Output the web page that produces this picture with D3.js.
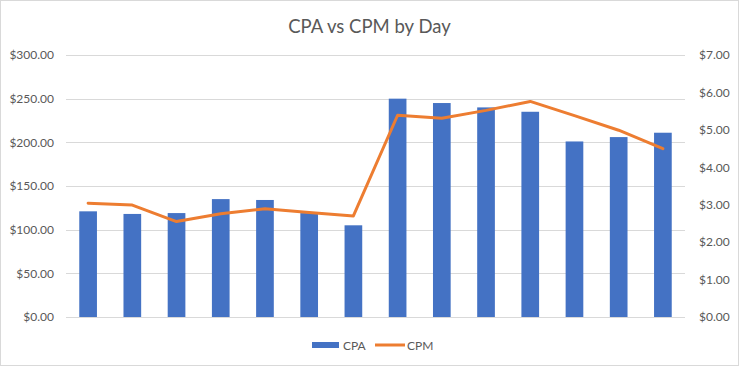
<!DOCTYPE html>
<html>
<head>
<meta charset="utf-8">
<script src="https://cdn.jsdelivr.net/npm/d3@7"></script>
<style>
  body { margin: 0; background: #fff; }
  svg { display: block; font-family: Lato, "Open Sans", sans-serif; }
</style>
</head>
<body>
<div class="forshow"></div>
<script>
// one entry per day (no labels shown on the axis)
var days = d3.range(1, 15).map(function(d) { return "Day " + d; });
var cpa = [121, 118, 119, 135, 134, 119, 105, 250, 245, 240, 235, 201, 206, 211];
var cpm = [3.04, 2.99, 2.55, 2.76, 2.89, 2.79, 2.70, 5.39, 5.31, 5.52, 5.76, 5.38, 4.99, 4.50];
var leftTicks = [0, 50, 100, 150, 200, 250, 300];
var rightTicks = [0, 1, 2, 3, 4, 5, 6, 7];

var W = 739, H = 367;
var margin = { top: 55, right: 54, bottom: 50, left: 66 };
var innerW = W - margin.left - margin.right;
var innerH = H - margin.top - margin.bottom;

var svg = d3.select(".forshow").append("svg")
	.attr("width", W)
	.attr("height", H);

// outer frame
svg.append("rect")
	.attr("x", 0.5).attr("y", 0.5)
	.attr("width", W - 1).attr("height", H - 2)
	.attr("fill", "#fff")
	.attr("stroke", "#d9d9d9");

svg.append("text")
	.attr("x", W / 2)
	.attr("y", 33)
	.attr("text-anchor", "middle")
	.attr("font-size", 18.5)
	.attr("fill", "#595959")
	.text("CPA vs CPM by Day");

var g = svg.append("g")
	.attr("transform", "translate(" + margin.left + "," + margin.top + ")");

var x = d3.scaleBand().domain(days).range([0, innerW]).paddingInner(0.6).paddingOuter(0.3);
var yL = d3.scaleLinear().domain([0, 300]).range([innerH, 0]);
var yR = d3.scaleLinear().domain([0, 7]).range([innerH, 0]);

// gridlines
g.selectAll(".grid")
	.data(leftTicks)
	.enter()
	.append("line")
	.attr("x1", 0)
	.attr("x2", innerW)
	.attr("y1", function(d) { return Math.round(yL(d)) + 0.5; })
	.attr("y2", function(d) { return Math.round(yL(d)) + 0.5; })
	.attr("stroke", "#d9d9d9")
	.attr("stroke-width", 1);

var fmt = d3.format("$,.2f");

var axL = g.append("g")
	.call(d3.axisLeft(yL).tickValues(leftTicks).tickFormat(fmt).tickSize(0).tickPadding(12));
var axR = g.append("g")
	.attr("transform", "translate(" + innerW + ",0)")
	.call(d3.axisRight(yR).tickValues(rightTicks).tickFormat(fmt).tickSize(0).tickPadding(14));
[axL, axR].forEach(function(a) {
	a.select(".domain").remove();
	a.selectAll("text")
		.attr("font-family", "Lato, 'Open Sans', sans-serif")
		.attr("font-size", 12)
		.attr("fill", "#595959");
});

g.selectAll(".bar")
	.data(cpa)
	.enter()
	.append("rect")
	.attr("x", function(d, i) { return x(days[i]); })
	.attr("y", function(d) { return yL(d); })
	.attr("width", x.bandwidth())
	.attr("height", function(d) { return innerH - yL(d); })
	.attr("fill", "#4472c4");

var line = d3.line()
	.x(function(d, i) { return x(days[i]) + x.bandwidth() / 2; })
	.y(function(d) { return yR(d); });

g.append("path")
	.datum(cpm)
	.attr("d", line)
	.attr("fill", "none")
	.attr("stroke", "#ed7d31")
	.attr("stroke-width", 3)
	.attr("stroke-linejoin", "round")
	.attr("stroke-linecap", "round");

// legend
var leg = svg.append("g").attr("transform", "translate(0,345)");
leg.append("rect")
	.attr("x", 312).attr("y", -3)
	.attr("width", 27).attr("height", 6)
	.attr("fill", "#4472c4");
leg.append("text")
	.attr("x", 343).attr("y", 4.5)
	.attr("font-size", 12).attr("fill", "#595959")
	.text("CPA");
leg.append("line")
	.attr("x1", 375).attr("x2", 405)
	.attr("y1", 0).attr("y2", 0)
	.attr("stroke", "#ed7d31").attr("stroke-width", 3);
leg.append("text")
	.attr("x", 407).attr("y", 4.5)
	.attr("font-size", 12).attr("fill", "#595959")
	.text("CPM");
</script>
</body>
</html>
